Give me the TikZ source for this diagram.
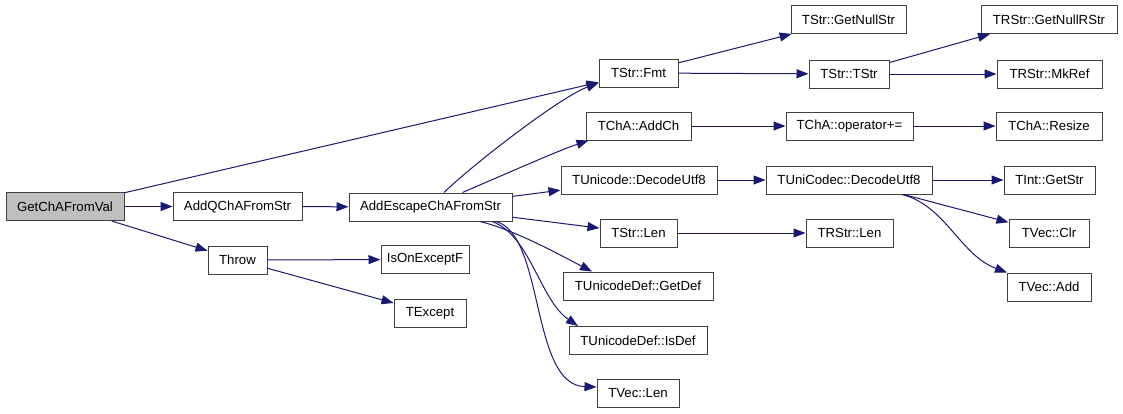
\documentclass[tikz,border=0pt]{standalone}
\usepackage{fontspec}
\setmainfont{Liberation Sans}
\usetikzlibrary{arrows.meta}
\definecolor{edgec}{HTML}{191970}
\definecolor{boxc}{HTML}{404040}
\definecolor{hl}{HTML}{BFBFBF}
\tikzset{
  box/.style={draw=boxc, line width=1pt, fill=white, inner sep=0pt, minimum height=28pt, font=\fontsize{13.2}{15}\selectfont, anchor=center},
  hlbox/.style={box, fill=hl},
  edge/.style={draw=edgec, line width=1pt, -{Triangle[length=12pt,width=9pt]}},
}
\begin{document}
\begin{tikzpicture}[x=1pt,y=-1pt]
\useasboundingbox (0,0) rectangle (1123,413);
% nodes
\node[hlbox, minimum width=118pt] (gcv) at (65,206.5) {GetChAFromVal};
\node[box, minimum width=129pt] (aq) at (237.5,206.5) {AddQChAFromStr};
\node[box, minimum width=59pt] (thr) at (237.5,260) {Throw};
\node[box, minimum width=163pt] (aec) at (430.5,207) {AddEscapeChAFromStr};
\node[box, minimum width=88pt] (ioe) at (425,259.5) {IsOnExceptF};
\node[box, minimum width=72pt] (tex) at (430,313) {TExcept};
\node[box, minimum width=79pt] (fmt) at (638.5,73) {TStr::Fmt};
\node[box, minimum width=105pt] (addch) at (638.5,126) {TChA::AddCh};
\node[box, minimum width=156pt] (tud) at (639,180) {TUnicode::DecodeUtf8};
\node[box, minimum width=77pt] (slen) at (638.5,233) {TStr::Len};
\node[box, minimum width=150pt] (gdef) at (638,286) {TUnicodeDef::GetDef};
\node[box, minimum width=138pt] (idef) at (638,340.5) {TUnicodeDef::IsDef};
\node[box, minimum width=82pt] (vlen) at (638,393.5) {TVec::Len};
\node[box, minimum width=115pt] (gns) at (848.5,19.5) {TStr::GetNullStr};
\node[box, minimum width=80pt] (tstr) at (849,74) {TStr::TStr};
\node[box, minimum width=127pt] (opp) at (849.5,126) {TChA::operator+=};
\node[box, minimum width=166pt] (tuc) at (849,180) {TUniCodec::DecodeUtf8};
\node[box, minimum width=87pt] (rlen) at (849.5,233) {TRStr::Len};
\node[box, minimum width=136pt] (gnr) at (1049,19.5) {TRStr::GetNullRStr};
\node[box, minimum width=105pt] (mkr) at (1049.5,74) {TRStr::MkRef};
\node[box, minimum width=106pt] (rsz) at (1049,126) {TChA::Resize};
\node[box, minimum width=91pt] (igs) at (1049.5,180) {TInt::GetStr};
\node[box, minimum width=80pt] (clr) at (1049,233) {TVec::Clr};
\node[box, minimum width=84pt] (vadd) at (1049,287) {TVec::Add};
% edges
\draw[edge] (gcv) -- (fmt);
\draw[edge] (gcv) -- (aq);
\draw[edge] (gcv) -- (thr);
\draw[edge] (aq) -- (aec);
\draw[edge] (thr) -- (ioe);
\draw[edge] (thr) -- (tex);
\draw[edge] ([xshift=13.5pt]aec.north) .. controls (471,166) and (560,97) .. ([yshift=-10pt]fmt.west);
\draw[edge] ([xshift=32pt]aec.north) .. controls (510,172) and (560,150) .. ([xshift=-50pt]addch.south);
\draw[edge] (aec) -- (tud);
\draw[edge] (aec) -- (slen);
\draw[edge] ([xshift=49.5pt]aec.south) .. controls (515,230) and (560,255) .. ([xshift=-46pt]gdef.north);
\draw[edge] ([xshift=61.5pt]aec.south) .. controls (530,235) and (540,300) .. ([xshift=-60pt]idef.north);
\draw[edge] ([xshift=65.5pt]aec.south) .. controls (545,235) and (530,385) .. ([yshift=6.5pt]vlen.west);
\draw[edge] (fmt) -- (gns);
\draw[edge] (fmt) -- (tstr);
\draw[edge] (tstr) -- ([xshift=-59pt]gnr.south);
\draw[edge] (tstr) -- (mkr);
\draw[edge] (addch) -- (opp);
\draw[edge] (opp) -- (rsz);
\draw[edge] (tud) -- (tuc);
\draw[edge] (tuc) -- (igs);
\draw[edge] (tuc) -- (clr);
\draw[edge] ([xshift=53pt]tuc.south) .. controls (945,205) and (960,255) .. ([xshift=-42pt]vadd.north);
\draw[edge] (slen) -- (rlen);
\end{tikzpicture}
\end{document}
